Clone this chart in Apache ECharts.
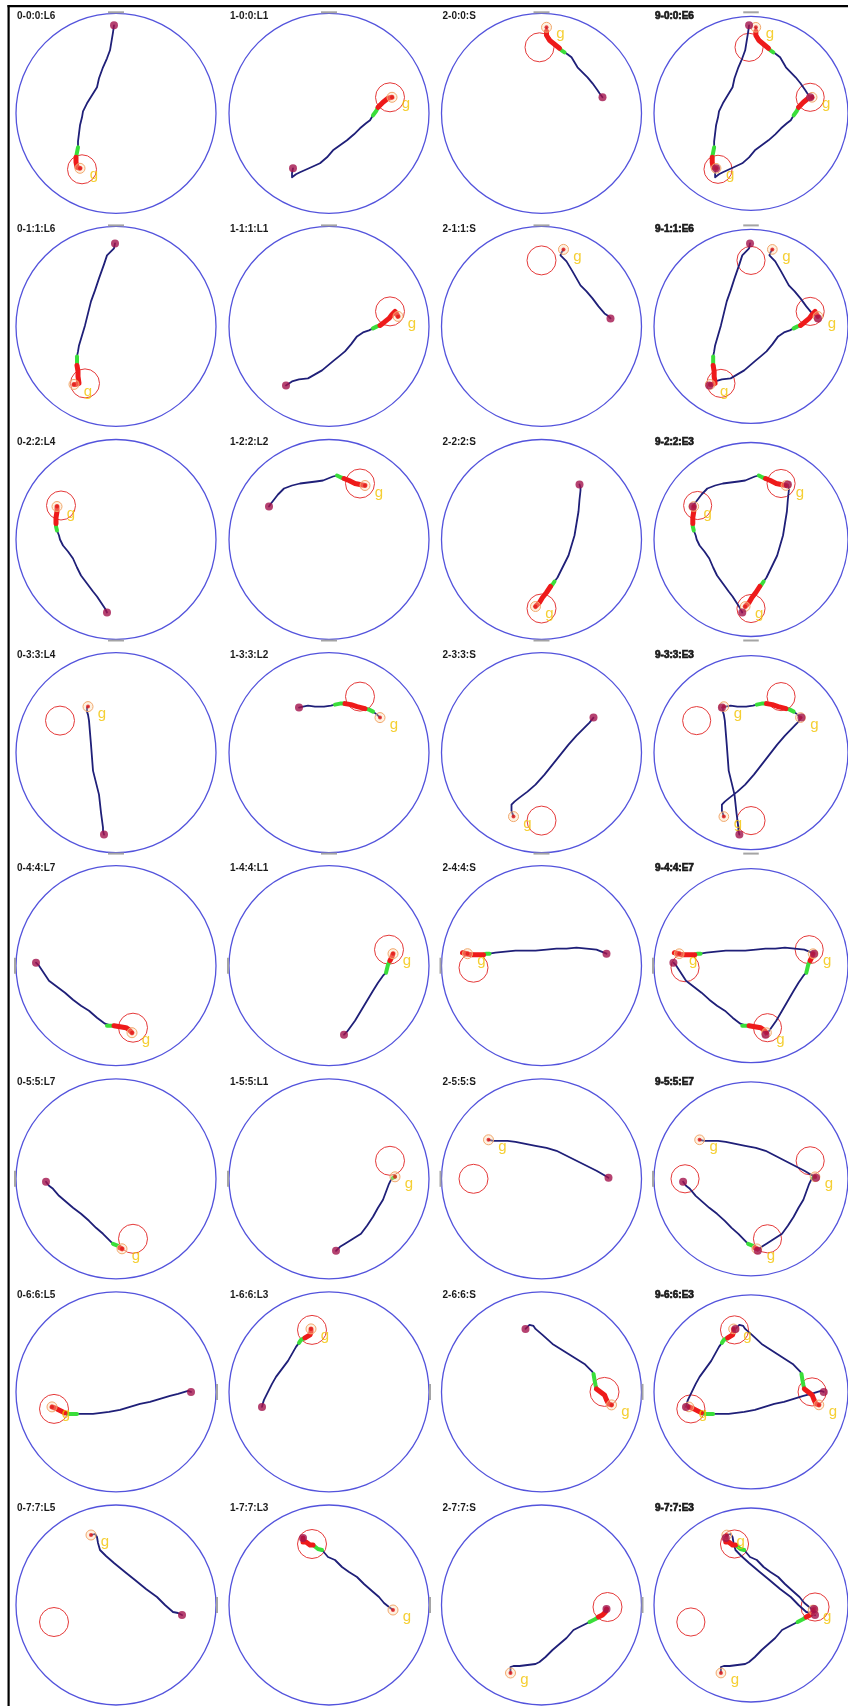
<!DOCTYPE html>
<html>
<head>
<meta charset="utf-8">
<script src="https://cdn.jsdelivr.net/npm/echarts@6/dist/echarts.min.js"></script>
<style>
  html, body { margin: 0; padding: 0; background: #fff; }
  #chart { width: 848px; height: 1706px; }
</style>
</head>
<body>
<div id="chart"></div>
<script>
// panel titles, one row per trial pair
const labels = [
  ['0-0:0:L6', '1-0:0:L1', '2-0:0:S', '9-0:0:E6'],
  ['0-1:1:L6', '1-1:1:L1', '2-1:1:S', '9-1:1:E6'],
  ['0-2:2:L4', '1-2:2:L2', '2-2:2:S', '9-2:2:E3'],
  ['0-3:3:L4', '1-3:3:L2', '2-3:3:S', '9-3:3:E3'],
  ['0-4:4:L7', '1-4:4:L1', '2-4:4:S', '9-4:4:E7'],
  ['0-5:5:L7', '1-5:5:L1', '2-5:5:S', '9-5:5:E7'],
  ['0-6:6:L5', '1-6:6:L3', '2-6:6:S', '9-6:6:E3'],
  ['0-7:7:L5', '1-7:7:L3', '2-7:7:S', '9-7:7:E3']
];

// where the little grey start mark sits on the arena
const markSide = ['top', 'top', 'bottom', 'bottom', 'left', 'left', 'right', 'right'];

// goal zone centres per row, agent 0 / 1 / 2 (arena radius = 100)
const zones = [
  [[-34, -56], [61, 16], [-2, 66]],
  [[-31, -57], [61, 15], [0, 66]],
  [[-55, 34], [31, 56], [0, -69]],
  [[-56, 32], [31, 56], [0, -68]],
  [[17, -62], [60, 16], [-68, -2]],
  [[17, -60], [61, 18], [-68, 0]],
  [[-62, -17], [-17, 62], [63, 0]],
  [[-62, -17], [-17, 61], [66, -2]]
];

// trajectories: x, y, phase (0 = travel, 1 = approach, 2 = in zone)
const p00 = [[-2,88,0],[-3,81,0],[-6,63,0],[-9,55,0],[-13,46,0],[-17,35,0],[-19,26,0],[-24,18,0],[-29,10,0],[-33,2,0],[-34,-4,0],[-36,-12,0],[-37,-20,0],[-38,-28,0],[-38,-34,1],[-39,-39,1],[-40,-44,2],[-40,-49,2],[-39,-54,2],[-36,-55,2]];
const p01 = [[-36,-55,0],[-37,-60,0],[-37,-64,0],[-33,-61,0],[-29,-59,0],[-20,-55,0],[-9,-50,0],[-2,-44,0],[4,-37,0],[11,-32,0],[18,-27,0],[25,-21,0],[31,-15,0],[37,-10,0],[41,-7,0],[44,-2,1],[47,2,1],[49,6,2],[54,11,2],[59,15,2],[63,16,2]];
const p02 = [[61,16,0],[58,20,0],[56,23,0],[51,30,0],[46,36,0],[41,41,0],[36,46,0],[33,51,0],[30,56,0],[26,59,0],[23,61,1],[20,63,1],[18,65,2],[13,69,2],[8,73,2],[5,78,2],[5,82,0],[5,86,0]];

const p10 = [[-1,83,0],[-2,78,0],[-6,74,0],[-9,71,0],[-12,62,0],[-17,48,0],[-21,36,0],[-25,25,0],[-28,13,0],[-31,1,0],[-34,-9,0],[-37,-19,0],[-38,-25,0],[-39,-30,1],[-39,-35,1],[-39,-39,2],[-38,-45,2],[-38,-50,2],[-37,-57,2],[-40,-58,2],[-42,-58,2]];
const p11 = [[-43,-59,0],[-40,-57,0],[-37,-55,0],[-30,-53,0],[-21,-52,0],[-14,-48,0],[-7,-44,0],[-1,-39,0],[5,-34,0],[10,-30,0],[16,-25,0],[22,-18,0],[28,-10,0],[34,-6,0],[40,-4,0],[44,-2,1],[48,0,1],[51,1,2],[55,4,2],[60,8,2],[63,12,2],[66,15,2],[69,10,2]];
const p12 = [[69,8,0],[66,11,0],[63,13,0],[57,20,0],[51,28,0],[45,35,0],[39,41,0],[35,48,0],[31,55,0],[28,60,0],[25,65,0],[22,68,0],[19,71,0],[20,74,0],[22,77,0]];

const p20 = [[-9,-73,0],[-11,-69,0],[-15,-63,0],[-19,-57,0],[-23,-52,0],[-29,-44,0],[-35,-36,0],[-39,-28,0],[-43,-19,0],[-48,-12,0],[-53,-6,0],[-56,0,0],[-57,4,0],[-59,9,1],[-60,13,1],[-60,16,2],[-60,22,2],[-59,28,2],[-59,33,2]];
const p21 = [[-60,33,0],[-58,36,0],[-57,38,0],[-51,45,0],[-45,51,0],[-37,54,0],[-29,56,0],[-21,57,0],[-13,58,0],[-6,59,0],[-1,61,0],[4,63,0],[8,64,1],[12,62,1],[15,61,2],[20,59,2],[26,56,2],[31,55,2],[36,54,2]];
const p22 = [[38,55,0],[39,52,0],[39,49,0],[38,40,0],[37,28,0],[35,16,0],[33,4,0],[30,-6,0],[27,-16,0],[23,-24,0],[19,-32,0],[16,-38,0],[13,-42,1],[11,-45,1],[9,-47,2],[5,-53,2],[1,-58,2],[-2,-63,2],[-6,-67,2]];

const p30 = [[-12,-82,0],[-13,-78,0],[-13,-75,0],[-15,-60,0],[-17,-42,0],[-20,-30,0],[-23,-18,0],[-24,-5,0],[-25,8,0],[-26,20,0],[-27,32,0],[-28,38,0],[-29,41,0],[-29,45,0],[-28,46,0]];
const p31 = [[-30,45,0],[-26,46,0],[-21,47,0],[-14,46,0],[-5,46,0],[2,47,0],[6,48,1],[11,49,1],[16,49,2],[22,48,2],[28,46,2],[32,45,2],[36,44,1],[40,43,1],[44,41,0],[48,38,0],[51,35,0]];
const p32 = [[52,35,0],[48,30,0],[43,25,0],[35,17,0],[27,8,0],[19,-2,0],[11,-12,0],[3,-22,0],[-6,-32,0],[-14,-39,0],[-22,-45,0],[-27,-49,0],[-30,-52,0],[-30,-58,0],[-28,-64,0]];

const p40 = [[-80,3,0],[-77,0,0],[-75,-2,0],[-71,-9,0],[-67,-15,0],[-59,-21,0],[-51,-27,0],[-43,-34,0],[-35,-40,0],[-27,-45,0],[-19,-52,0],[-11,-58,0],[-9,-60,1],[-5,-60,1],[-2,-60,2],[4,-61,2],[10,-62,2],[13,-64,2],[16,-67,2]];
const p41 = [[15,-69,0],[18,-66,0],[20,-64,0],[26,-55,0],[32,-45,0],[38,-35,0],[44,-25,0],[49,-17,0],[54,-10,0],[57,-7,1],[58,-3,1],[59,1,1],[61,5,2],[63,9,2],[64,12,2]];
const p42 = [[65,12,0],[60,14,0],[55,16,0],[45,17,0],[35,18,0],[25,17,0],[15,17,0],[5,16,0],[-6,15,0],[-16,15,0],[-26,15,0],[-36,14,0],[-46,13,0],[-52,12,1],[-55,12,1],[-58,11,2],[-64,11,2],[-70,11,2],[-76,12,2],[-79,13,2],[-74,12,2]];

const p50 = [[-70,-3,0],[-67,-7,0],[-63,-10,0],[-57,-17,0],[-50,-23,0],[-43,-29,0],[-35,-35,0],[-27,-42,0],[-20,-49,0],[-13,-55,0],[-7,-61,0],[-3,-65,1],[2,-67,1],[4,-69,2],[6,-70,2]];
const p51 = [[7,-72,0],[11,-68,0],[16,-65,0],[24,-60,0],[32,-55,0],[38,-47,0],[44,-38,0],[49,-29,0],[54,-21,0],[57,-13,0],[60,-5,0],[62,-1,0],[64,1,1],[66,2,1]];
const p52 = [[67,1,0],[62,4,0],[55,8,0],[45,13,0],[35,18,0],[25,23,0],[15,28,0],[5,31,0],[-6,33,0],[-16,35,0],[-26,37,0],[-34,38,0],[-42,38,0],[-48,38,0],[-50,37,0],[-53,39,0]];

const p60 = [[75,0,0],[72,1,0],[70,1,0],[62,-2,0],[54,-4,0],[44,-7,0],[34,-10,0],[24,-12,0],[14,-15,0],[4,-18,0],[-7,-20,0],[-15,-21,0],[-23,-22,0],[-31,-22,0],[-37,-22,0],[-39,-22,1],[-47,-22,1],[-51,-21,2],[-55,-19,2],[-59,-17,2],[-64,-15,2]];
const p61 = [[-67,-15,0],[-66,-11,0],[-65,-8,0],[-61,0,0],[-57,8,0],[-53,15,0],[-47,23,0],[-41,31,0],[-37,38,0],[-33,45,0],[-30,49,1],[-28,52,1],[-24,54,2],[-19,57,2],[-18,60,2],[-18,63,2]];
const p62 = [[-16,63,0],[-12,67,0],[-8,66,0],[-6,63,0],[1,57,0],[11,48,0],[19,43,0],[27,38,0],[35,33,0],[43,28,0],[48,23,0],[51,20,0],[52,18,1],[53,12,1],[54,7,1],[55,3,2],[59,0,2],[63,-3,2],[65,-8,2],[67,-12,2],[70,-13,2]];

const p70 = [[66,-10,0],[62,-8,0],[57,-7,0],[49,0,0],[41,8,0],[30,16,0],[19,25,0],[9,33,0],[-2,42,0],[-10,49,0],[-16,55,0],[-18,62,0],[-19,68,0],[-21,71,0],[-23,71,0],[-25,70,0]];
const p71 = [[-26,67,2],[-26,63,2],[-23,63,2],[-19,60,2],[-16,60,1],[-11,56,1],[-7,55,0],[-1,48,0],[6,45,0],[13,38,0],[20,33,0],[28,28,0],[35,21,0],[43,14,0],[50,8,0],[55,2,0],[60,-2,0],[62,-4,0],[64,-5,0]];
const p72 = [[65,-4,2],[64,-7,2],[61,-10,2],[57,-12,1],[54,-14,1],[48,-17,0],[40,-21,0],[32,-25,0],[25,-33,0],[18,-39,0],[11,-45,0],[4,-52,0],[-2,-57,0],[-6,-59,0],[-14,-60,0],[-22,-61,0],[-28,-61,0],[-31,-62,0],[-31,-66,0],[-31,-68,0]];

const paths = [
  [p00, p01, p02], [p10, p11, p12], [p20, p21, p22], [p30, p31, p32],
  [p40, p41, p42], [p50, p51, p52], [p60, p61, p62], [p70, p71, p72]
];

const colX = [116, 329, 541.5, 754];
const rowY = r => 113.3 + 213.1 * r;
const R = 100;
const ZONE_R = 14.5;
const GOAL_R = 5;

// consecutive points of one phase, carried on to the next point
function runs(pts, phase) {
  const out = [];
  let cur = null;
  pts.forEach(p => {
    if (p[2] === phase) {
      if (!cur) { cur = []; out.push(cur); }
      cur.push([p[0], p[1]]);
    } else if (cur) {
      cur.push([p[0], p[1]]);
      cur = null;
    }
  });
  return out.filter(s => s.length > 1);
}

function circleSeries(idx, data, style, z) {
  return {
    type: 'custom', xAxisIndex: idx, yAxisIndex: idx, silent: true, z, clip: false,
    renderItem: (params, api) => {
      const c = api.coord([api.value(0), api.value(1)]);
      const r = api.size([api.value(2), 0])[0];
      return { type: 'circle', shape: { cx: c[0], cy: c[1], r }, style: Object.assign({}, style) };
    },
    data
  };
}

function lineSeries(idx, data, color, width, z) {
  return {
    type: 'line', xAxisIndex: idx, yAxisIndex: idx, data, silent: true, z,
    showSymbol: false, symbol: 'none', smooth: false,
    lineStyle: { color, width, cap: 'round', join: 'round' }
  };
}

const grids = [], xAxes = [], yAxes = [], series = [], titles = [];

for (let r = 0; r < 8; r++) {
  for (let c = 0; c < 4; c++) {
    const idx = r * 4 + c;
    const cx = colX[c], cy = rowY(r);
    grids.push({ left: cx - R, top: cy - R, width: 2 * R, height: 2 * R });
    xAxes.push({ type: 'value', gridIndex: idx, min: -R, max: R, show: false });
    yAxes.push({ type: 'value', gridIndex: idx, min: -R, max: R, show: false });

    titles.push({
      text: labels[r][c], left: cx - 99, top: cy - 102, padding: 0,
      textStyle: {
        fontSize: 10, fontWeight: 'bold', color: '#1a1a1a',
        fontFamily: 'Liberation Sans, Arial, sans-serif',
        textBorderColor: c === 3 ? '#1a1a1a' : 'transparent', textBorderWidth: c === 3 ? 0.7 : 0
      }
    });

    // arena
    series.push(circleSeries(idx, [[0, 0, R]], { fill: 'none', stroke: '#5353dc', lineWidth: 1.3 }, 1));

    // grey start mark
    const side = markSide[r];
    const m = side === 'top' ? [-8, 101, 8, 101] : side === 'bottom' ? [-8, -101, 8, -101]
            : side === 'left' ? [-101, -8, -101, 8] : [101, -8, 101, 8];
    series.push({
      type: 'custom', xAxisIndex: idx, yAxisIndex: idx, silent: true, z: 1, clip: false,
      renderItem: (params, api) => {
        const a = api.coord([api.value(0), api.value(1)]);
        const b = api.coord([api.value(2), api.value(3)]);
        return { type: 'line', shape: { x1: a[0], y1: a[1], x2: b[0], y2: b[1] },
                 style: { stroke: '#a4a4a4', lineWidth: 2 } };
      },
      data: [m]
    });

    const agents = c < 3 ? [c] : [0, 1, 2];

    series.push(circleSeries(idx, agents.map(a => [zones[r][a][0], zones[r][a][1], ZONE_R]),
      { fill: 'none', stroke: '#e53a3a', lineWidth: 1 }, 2));

    agents.forEach(a => {
      const pts = paths[r][a];
      series.push(lineSeries(idx, pts.map(p => [p[0], p[1]]), '#1f1f78', 1.8, 3));
      runs(pts, 1).forEach(s => series.push(lineSeries(idx, s, '#3ade3a', 4, 4)));
      runs(pts, 2).forEach(s => series.push(lineSeries(idx, s, '#ee1a1a', 5, 5)));
    });

    const ends = agents.map(a => paths[r][a][paths[r][a].length - 1]);
    const starts = agents.map(a => paths[r][a][0]);

    series.push(circleSeries(idx, ends.map(e => [e[0], e[1], GOAL_R]),
      { fill: 'rgba(252,214,170,0.35)', stroke: '#f2a96e', lineWidth: 1 }, 6));

    series.push({
      type: 'scatter', xAxisIndex: idx, yAxisIndex: idx, silent: true, z: 7,
      symbolSize: 4, itemStyle: { color: '#e01818' },
      label: {
        show: true, formatter: 'g', position: 'inside', offset: [14, 7],
        color: '#f3c300', fontSize: 15, fontFamily: 'Liberation Sans, Arial, sans-serif'
      },
      data: ends.map(e => [e[0], e[1]])
    });

    series.push({
      type: 'scatter', xAxisIndex: idx, yAxisIndex: idx, silent: true, z: 8,
      symbolSize: 8, itemStyle: { color: '#a3134c' },
      data: starts.map(s => [s[0], s[1]])
    });
  }
}

const chart = echarts.init(document.getElementById('chart'), null, { renderer: 'canvas' });
chart.setOption({
  animation: false,
  backgroundColor: '#ffffff',
  title: titles,
  grid: grids,
  xAxis: xAxes,
  yAxis: yAxes,
  series,
  graphic: [
    { type: 'rect', shape: { x: 7.5, y: 5, width: 2.2, height: 1710 }, style: { fill: '#000' }, silent: true },
    { type: 'rect', shape: { x: 7.5, y: 5, width: 845, height: 2.2 }, style: { fill: '#000' }, silent: true }
  ]
});
</script>
</body>
</html>
